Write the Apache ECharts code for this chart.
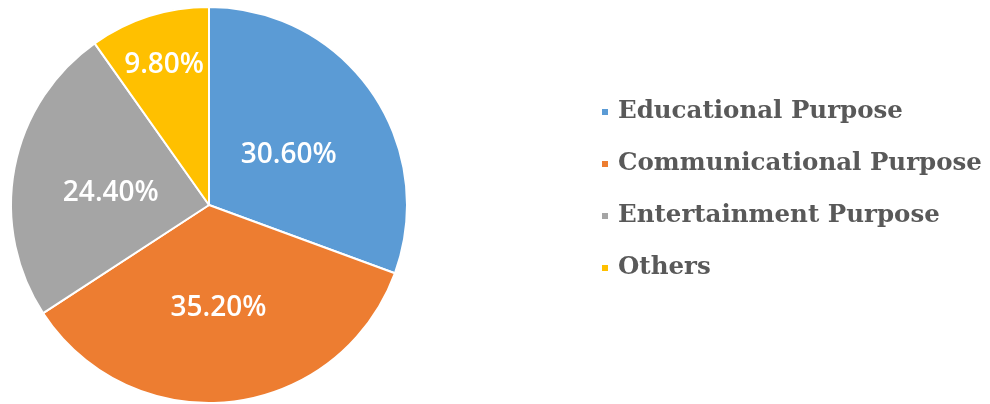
<!DOCTYPE html>
<html>
<head>
<meta charset="utf-8">
<script src="https://cdn.jsdelivr.net/npm/echarts@6/dist/echarts.min.js"></script>
<style>
html,body{margin:0;padding:0;background:#fff;}
#chart{width:990px;height:404px;}
</style>
</head>
<body>
<div id="chart"></div>
<script>
const categories = ['Educational Purpose', 'Communicational Purpose', 'Entertainment Purpose', 'Others'];
const values = [30.6, 35.2, 24.4, 9.8];
const colors = ['#5B9BD5', '#ED7D31', '#A5A5A5', '#FFC000'];
const labelOffsets = [[-4, 8], [-2, 2], [2, 7], [-14, -43]];

const chart = echarts.init(document.getElementById('chart'), null, {renderer: 'canvas'});
chart.setOption({
  animation: false,
  backgroundColor: '#ffffff',
  legend: {
    orient: 'vertical',
    left: 595,
    top: 93,
    icon: 'rect',
    itemWidth: 8,
    itemHeight: 8,
    itemGap: 24,
    data: categories,
    textStyle: {
      fontFamily: 'DejaVu Serif',
      fontWeight: 'bold',
      fontSize: 24.5,
      color: '#595959',
      lineHeight: 28,
      padding: [0, 0, 0, 4]
    }
  },
  series: [{
    type: 'pie',
    center: [209, 205],
    radius: 198,
    startAngle: 90,
    clockwise: true,
    itemStyle: { borderColor: '#ffffff', borderWidth: 2 },
    label: {
      show: true,
      position: 'inside',
      formatter: function (p) { return p.value.toFixed(2) + '%'; },
      color: '#ffffff',
      fontFamily: 'Open Sans',
      fontWeight: 600,
      fontSize: 28
    },
    labelLine: { show: false },
    emphasis: { disabled: true },
    data: categories.map((c, i) => ({
      name: c,
      value: values[i],
      itemStyle: { color: colors[i] },
      label: { offset: labelOffsets[i] }
    }))
  }]
});
</script>
</body>
</html>
